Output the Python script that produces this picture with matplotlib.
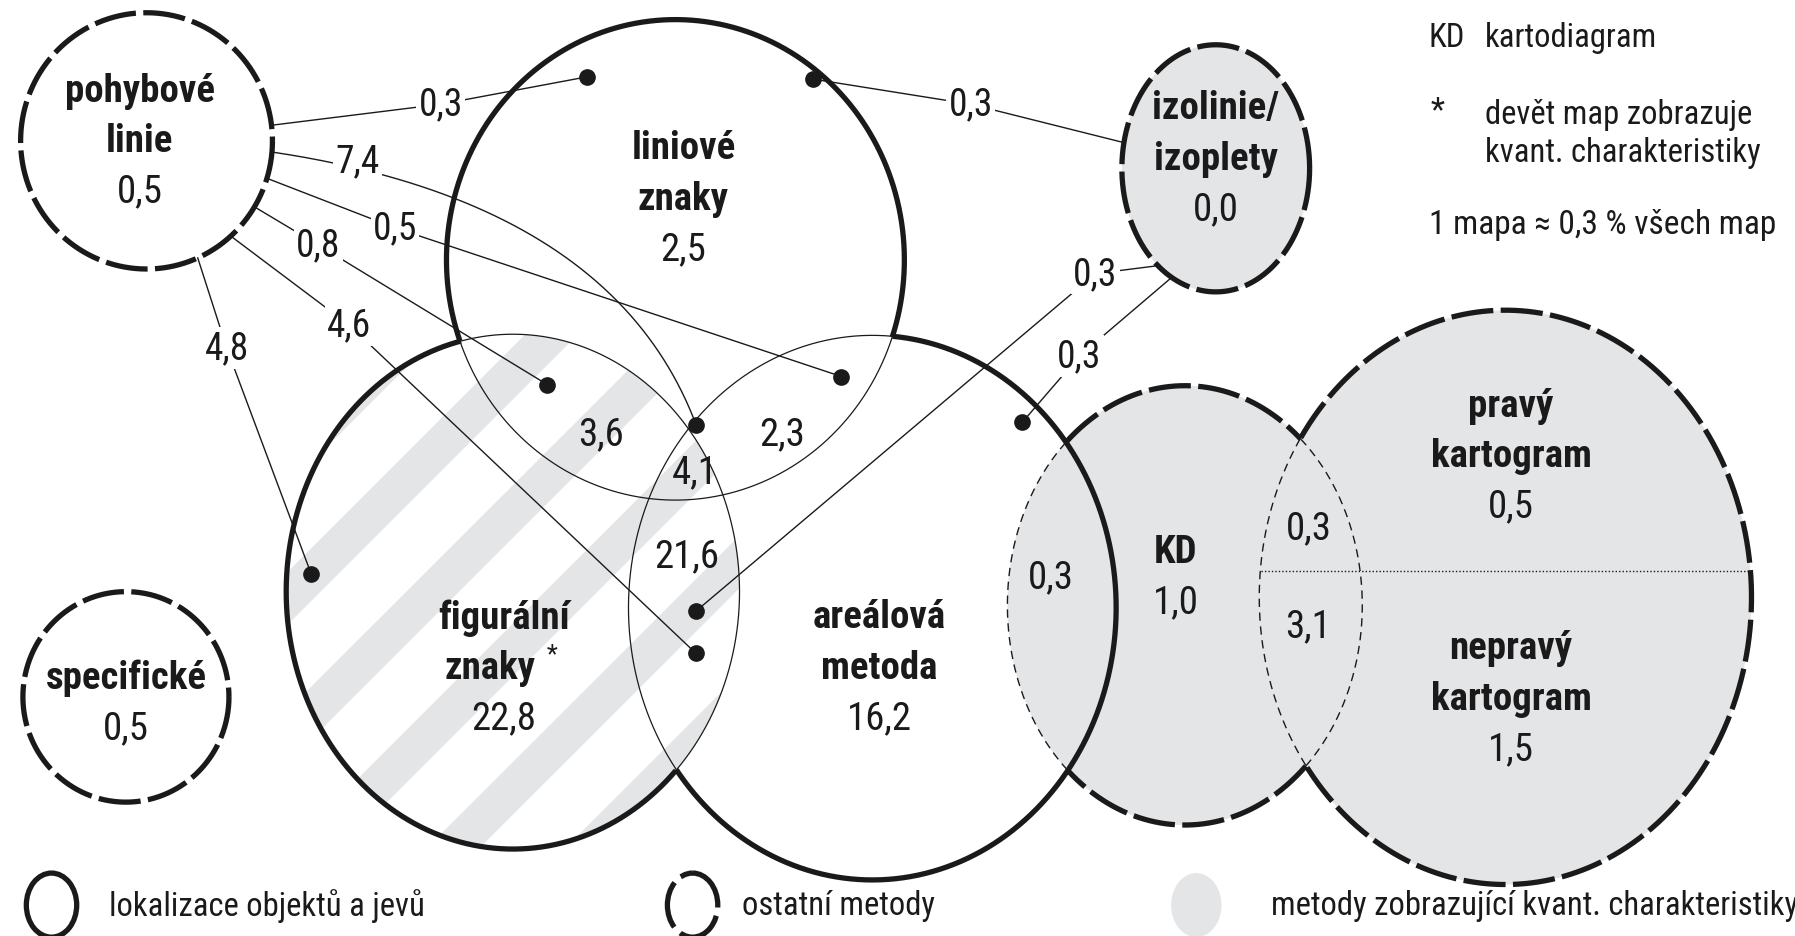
import numpy as np
import matplotlib
matplotlib.use('Agg')
import matplotlib.pyplot as plt
from matplotlib.patches import Ellipse, Polygon
from matplotlib import font_manager as fm

# ---------------- data ----------------
set_keys = ['poh', 'spec', 'lin', 'fig', 'are', 'izo', 'kd', 'prav', 'neprav']
set_names = [['pohybové', 'linie'], ['specifické'], ['liniové', 'znaky'], ['figurální', 'znaky'],
             ['areálová', 'metoda'], ['izolinie/', 'izoplety'], ['KD'], ['pravý', 'kartogram'],
             ['nepravý', 'kartogram']]
set_values = [0.5, 0.5, 2.5, 22.8, 16.2, 0.0, 1.0, 0.5, 1.5]
overlap_values = [3.6, 2.3, 4.1, 21.6, 0.3, 0.3, 3.1]   # lin∩fig, lin∩are, lin∩fig∩are, fig∩are, are∩KD, KD∩pravý, KD∩nepravý
link_values = [0.3, 7.4, 0.5, 0.8, 4.6, 4.8, 0.3, 0.3, 0.3]
legend_labels = ['lokalizace objektů a jevů', 'ostatní metody', 'metody zobrazující kvant. charakteristiky']
note_abbr = ['KD', '*']
note_texts = ['kartodiagram', 'devět map zobrazuje\nkvant. charakteristiky']
scale_note = '1 mapa ≈ 0,3 % všech map'


def fmt(v):
    return f'{v:.1f}'.replace('.', ',')


# ---------------- fonts ----------------
names = {f.name for f in fm.fontManager.ttflist}
STRETCH = 'normal'
FONT = None
for c in ['Liberation Sans Narrow', 'Roboto Condensed', 'Open Sans Condensed']:
    if c in names:
        FONT = c
        break
if FONT is None:
    FONT = 'DejaVu Sans'
    STRETCH = 'condensed'
plt.rcParams['font.family'] = [FONT, 'DejaVu Sans']
plt.rcParams['font.stretch'] = STRETCH

# ---------------- layout (display coords of a 1568x819 canvas) ----------------
W, H = 1568, 819
E = {
    'poh': (128, 124, 110, 112),
    'spec': (110, 610, 90, 92),
    'lin': (590, 228, 200, 210),
    'fig': (448, 518, 198, 225),
    'are': (762, 532, 213, 238),
    'izo': (1062, 148, 82, 108),
    'kd': (1035, 530, 155, 192),
    'kart': (1315, 523, 215, 251),
}
GRAY = '#e4e5e7'
INK = '#1a1a1a'
THICK = 3.8
THIN = 0.9
DASH_THICK = (0, (8.0, 1.4))
DASH_THIN = (0, (6, 4))

fig = plt.figure(figsize=(17.95, 9.37), dpi=100)
ax = fig.add_axes([0, 0, 1, 1])
ax.set_xlim(0, W)
ax.set_ylim(H, 0)
ax.axis('off')


def ell_patch(key, **kw):
    cx, cy, rx, ry = E[key]
    p = Ellipse((cx, cy), 2 * rx, 2 * ry, **kw)
    ax.add_patch(p)
    return p


def pts(key, n=1440):
    cx, cy, rx, ry = E[key]
    t = np.linspace(0, 2 * np.pi, n, endpoint=False)
    return cx + rx * np.cos(t), cy + ry * np.sin(t)


def inside(x, y, key):
    cx, cy, rx, ry = E[key]
    return ((x - cx) / rx) ** 2 + ((y - cy) / ry) ** 2 < 1


def draw_split(key, others, kw_out, kw_in, z=4):
    x, y = pts(key)
    m = np.zeros(len(x), bool)
    for o in others:
        m |= inside(x, y, o)
    n = len(x)
    ch = np.nonzero(m != np.roll(m, 1))[0]
    if len(ch) == 0:
        xs, ys = np.append(x, x[0]), np.append(y, y[0])
        ax.plot(xs, ys, zorder=z, solid_capstyle='butt', **(kw_in if m[0] else kw_out))
        return
    start = ch[0]
    x, y, m = np.roll(x, -start), np.roll(y, -start), np.roll(m, -start)
    ch = list(np.nonzero(m != np.roll(m, 1))[0]) + [n]
    for a, b in zip(ch[:-1], ch[1:]):
        idx = np.arange(a, b + 1) % n
        ax.plot(x[idx], y[idx], zorder=z, solid_capstyle='butt', dash_capstyle='butt',
                **(kw_in if m[a] else kw_out))


# ---------------- fills ----------------
for k in ['izo', 'kd', 'kart']:
    ell_patch(k, facecolor=GRAY, edgecolor='none', zorder=1)

# stripes in figurální
clip = ell_patch('fig', facecolor='none', edgecolor='none', zorder=0)
period, width, phase = 121, 46, 752
for k in range(-10, 12):
    c0 = phase + k * period
    poly = Polygon([(-2000, c0 + 2000), (3000, c0 - 3000), (3000, c0 + width - 3000), (-2000, c0 + width + 2000)],
                   closed=True, facecolor=GRAY, edgecolor='none', zorder=1)
    ax.add_patch(poly)
    poly.set_clip_path(clip)

# ---------------- outlines ----------------
solid_out = dict(color=INK, lw=THICK)
solid_in = dict(color=INK, lw=THIN)
dash_out = dict(color=INK, lw=THICK, linestyle=DASH_THICK)
dash_in = dict(color=INK, lw=1.0, linestyle=DASH_THIN)

trio = ['lin', 'fig', 'are']
for k in trio:
    draw_split(k, [o for o in trio if o != k], solid_out, solid_in, z=5)
for k in ['poh', 'spec', 'izo']:
    draw_split(k, [], dash_out, dash_in)
draw_split('kd', ['are', 'kart'], dash_out, dash_in)
draw_split('kart', ['kd'], dash_out, dash_in)

# dotted divider in kartogram
cx, cy, rx, ry = E['kart']
dl, = ax.plot([cx - rx - 5, cx + rx + 5], [500, 500], color=INK, lw=1.0, linestyle=(0, (1, 1.5)), zorder=3)
dl.set_clip_path(ell_patch('kart', facecolor='none', edgecolor='none', zorder=0))

# ---------------- set labels ----------------
label_xy = {'poh': (122, 80), 'spec': (110, 593), 'lin': (597, 130), 'fig': (440, 540), 'are': (768, 540),
            'izo': (1062, 95), 'kd': (1027, 483), 'prav': (1320, 355), 'neprav': (1320, 567)}
line_dx = {('fig', 1): -12}
STEP = 44
FS = 28
for key, nm, v in zip(set_keys, set_names, set_values):
    x0, y0 = label_xy[key]
    for i, line in enumerate(nm):
        ax.text(x0 + line_dx.get((key, i), 0), y0 + i * STEP, line, ha='center', va='center', fontsize=FS,
                fontweight='bold', color=INK, zorder=8)
    ax.text(x0, y0 + len(nm) * STEP, fmt(v), ha='center', va='center', fontsize=FS, color=INK, zorder=8)
ax.text(482, 573, '*', ha='center', va='center', fontsize=18, color=INK, zorder=8)

# overlap labels
overlap_xy = [(525, 380), (683, 380), (607, 413), (600, 487), (918, 505), (1143, 462), (1143, 548)]
for (x0, y0), v in zip(overlap_xy, overlap_values):
    ax.text(x0, y0, fmt(v), ha='center', va='center', fontsize=FS, color=INK, zorder=8)


# ---------------- connectors ----------------
def on_ell(key, deg):
    cx, cy, rx, ry = E[key]
    t = np.deg2rad(deg)
    return cx + rx * np.cos(t), cy + ry * np.sin(t)


# (start, label position, end, bezier control or None, dot at start?)
links = [
    (on_ell('poh', -7), (385, 92), (513, 68), None, False),
    (on_ell('poh', 5), (312, 141), (608, 372), (535, 178), False),
    (on_ell('poh', 17), (345, 200), (735, 330), None, False),
    (on_ell('poh', 31), (278, 215), (478, 337), None, False),
    (on_ell('poh', 48), (305, 285), (608, 572), None, False),
    (on_ell('poh', 66), (198, 305), (272, 503), None, False),
    (on_ell('izo', 192), (848, 92), (710, 70), None, False),
    (on_ell('izo', 128), (957, 240), (608, 535), None, False),
    (on_ell('izo', 118), (943, 312), (893, 370), None, False),
]
for (s, lab, e, ctrl, _), v in zip(links, link_values):
    if ctrl is None:
        ax.plot([s[0], lab[0], e[0]], [s[1], lab[1], e[1]], color=INK, lw=1.0, zorder=6)
    else:
        t = np.linspace(0, 1, 200)[:, None]
        P0, P1, P2 = np.array(s), np.array(ctrl), np.array(e)
        B = (1 - t) ** 2 * P0 + 2 * t * (1 - t) * P1 + t ** 2 * P2
        ax.plot(B[:, 0], B[:, 1], color=INK, lw=1.0, zorder=6)
    ax.text(lab[0], lab[1], fmt(v), ha='center', va='center', fontsize=27, color=INK, zorder=9,
            bbox=dict(facecolor='white', edgecolor='none', pad=1.5))
    ax.plot([e[0]], [e[1]], 'o', ms=11, color=INK, zorder=7)

# ---------------- notes (top right) ----------------
NFS = 23.5
ax.text(1248, 33, note_abbr[0], ha='left', va='center', fontsize=NFS, color=INK)
ax.text(1297, 33, note_texts[0], ha='left', va='center', fontsize=NFS, color=INK)
ax.text(1250, 97, note_abbr[1], ha='left', va='center', fontsize=NFS, color=INK)
ax.text(1297, 117, note_texts[1], ha='left', va='center', fontsize=NFS, color=INK, linespacing=1.25)
ax.text(1248, 197, scale_note, ha='left', va='center', fontsize=NFS + 0.5, color=INK)

# ---------------- bottom legend ----------------
ly = 792
ax.add_patch(Ellipse((45, ly), 44, 56, facecolor='none', edgecolor=INK, lw=THICK))
ax.add_patch(Ellipse((605, ly), 44, 56, facecolor='none', edgecolor=INK, lw=THICK, linestyle=(0, (9, 1.6))))
ax.add_patch(Ellipse((1045, ly), 44, 56, facecolor=GRAY, edgecolor='none'))
for x0, t in zip([95, 648, 1110], legend_labels):
    ax.text(x0, ly, t, ha='left', va='center', fontsize=NFS, color=INK)

fig.savefig('out.png', dpi=100, facecolor='white')
